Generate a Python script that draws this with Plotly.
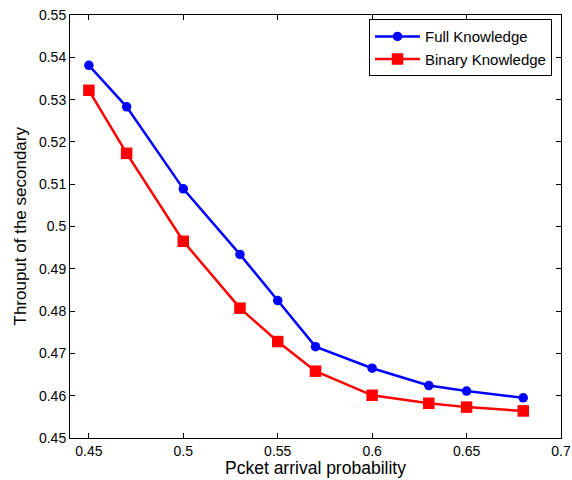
import plotly.graph_objects as go

x_vals = [0.45, 0.47, 0.5, 0.53, 0.55, 0.57, 0.6, 0.63, 0.65, 0.68]
full_knowledge = [0.5381, 0.5283, 0.5089, 0.4934, 0.4825, 0.4716, 0.4665, 0.4624, 0.4611, 0.4595]
binary_knowledge = [0.5322, 0.5173, 0.4965, 0.4807, 0.4728, 0.4658, 0.4601, 0.4582, 0.4573, 0.4564]
x_ticks = [0.45, 0.5, 0.55, 0.6, 0.65, 0.7]
x_tick_text = ["0.45", "0.5", "0.55", "0.6", "0.65", "0.7"]
y_ticks = [0.45, 0.46, 0.47, 0.48, 0.49, 0.5, 0.51, 0.52, 0.53, 0.54, 0.55]
y_tick_text = ["0.45", "0.46", "0.47", "0.48", "0.49", "0.5", "0.51", "0.52", "0.53", "0.54", "0.55"]
x_title = "Pcket arrival probability"
y_title = "Throuput of the secondary"

FONT = "Liberation Sans, Arial, sans-serif"

fig = go.Figure()
fig.add_trace(go.Scatter(x=x_vals, y=full_knowledge, mode="lines+markers", name="Full Knowledge",
                         line=dict(color="#0000ff", width=2.5),
                         marker=dict(symbol="circle", size=9.5, color="#0000ff")))
fig.add_trace(go.Scatter(x=x_vals, y=binary_knowledge, mode="lines+markers", name="Binary Knowledge",
                         line=dict(color="#ff0000", width=2.5),
                         marker=dict(symbol="square", size=11.5, color="#ff0000")))

axis_common = dict(showline=True, linecolor="black", linewidth=1, mirror="ticks",
                   ticks="inside", ticklen=5, tickcolor="black", showgrid=False, zeroline=False,
                   automargin=False,
                   tickfont=dict(family=FONT, size=14, color="black"))
fig.update_layout(
    width=572, height=480,
    margin=dict(l=70, r=11, t=15, b=42),
    paper_bgcolor="white", plot_bgcolor="white",
    font=dict(family=FONT, color="black"),
    xaxis=dict(range=[0.44, 0.7], tickvals=x_ticks, ticktext=x_tick_text, **axis_common),
    yaxis=dict(range=[0.45, 0.55], tickvals=y_ticks, ticktext=y_tick_text, **axis_common),
    legend=dict(x=0.609, y=0.99, xanchor="left", yanchor="top", bgcolor="white",
                bordercolor="black", borderwidth=1, font=dict(size=15),
                tracegroupgap=0, itemwidth=45),
    showlegend=True,
    annotations=[
        dict(text=x_title, xref="paper", yref="paper", x=0.5, y=0, yshift=-30,
             xanchor="center", yanchor="middle", showarrow=False,
             font=dict(family=FONT, size=17.5, color="black")),
        dict(text=y_title, xref="paper", yref="paper", x=0, y=0.5, xshift=-50,
             xanchor="center", yanchor="middle", showarrow=False, textangle=-90,
             font=dict(family=FONT, size=17, color="black")),
    ],
)
fig.write_html("out.html", config={"displayModeBar": False},
               post_script="document.body.style.margin='0';document.body.style.overflow='hidden';")
